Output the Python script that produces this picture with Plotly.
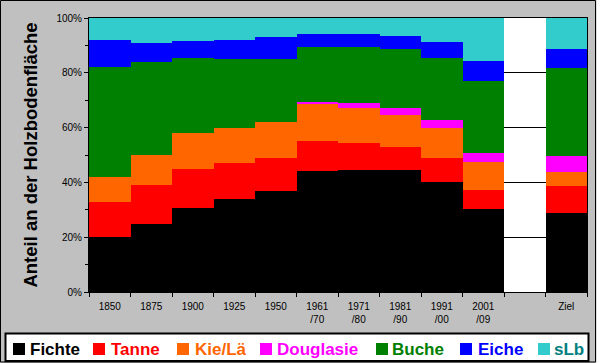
import plotly.graph_objects as go

categories = ["1850", "1875", "1900", "1925", "1950", "1961<br>/70", "1971<br>/80",
              "1981<br>/90", "1991<br>/00", "2001<br>/09", " ", "Ziel"]

fichte    = [20, 25, 30.5, 34, 37, 44, 44.5, 44.5, 40.3, 30.3, None, 28.8]
tanne     = [13, 14, 14.5, 13, 12, 11, 10, 8.5, 8.6, 6.9, None, 9.9]
kie_lae   = [9, 11, 13, 13, 13, 13.5, 12.5, 11.7, 11, 10.2, None, 5.1]
douglasie = [0, 0, 0, 0, 0, 0.8, 1.8, 2.6, 2.9, 3.3, None, 5.8]
buche     = [40, 34, 27.5, 25, 23, 20, 20.5, 21.5, 22.6, 26.3, None, 32.2]
eiche     = [10, 7, 6, 7, 8, 5, 4.8, 4.7, 5.8, 7.3, None, 6.9]
slb       = [8, 9, 8.5, 8, 7, 5.7, 5.9, 6.5, 8.8, 15.7, None, 11.3]

series_names = ["Fichte", "Tanne", "Kie/Lä", "Douglasie", "Buche", "Eiche", "sLb"]
series_values = [fichte, tanne, kie_lae, douglasie, buche, eiche, slb]
bar_colors = ["#000000", "#ff0000", "#ff6600", "#ff00ff", "#008000", "#0000ff", "#33cccc"]
text_colors = ["#000000", "#ff0000", "#ff6600", "#ff00ff", "#008000", "#0000ff", "#008080"]

FONT = "Liberation Sans, Arial, sans-serif"

fig = go.Figure()
for name, vals, col in zip(series_names, series_values, bar_colors):
    fig.add_trace(go.Bar(x=categories, y=vals, name=name,
                         marker=dict(color=col, line=dict(width=0)),
                         showlegend=False))

# plot area in pixels
L, R, T, B = 89, 587, 18, 292
W, H = R - L, B - T

def px(x):
    return (x - L) / W

def py(y):
    return (B - y) / H

shapes = []
# outer frame
shapes.append(dict(type="rect", xref="paper", yref="paper",
                   x0=px(0.5), x1=px(595.5), y0=py(362), y1=py(0.5),
                   line=dict(color="black", width=1), fillcolor="rgba(0,0,0,0)", layer="above"))
shapes.append(dict(type="rect", xref="paper", yref="paper",
                   x0=px(596.5), x1=px(601), y0=py(364), y1=py(-1),
                   line=dict(width=0), fillcolor="white", layer="above"))
# legend box
shapes.append(dict(type="rect", xref="paper", yref="paper",
                   x0=px(5.5), x1=px(588.5), y0=py(361), y1=py(333.5),
                   line=dict(color="black", width=2), fillcolor="white", layer="above"))

square_x = [13, 93, 177, 260, 376, 460, 538]
text_x = [28, 109, 193, 275, 390, 476, 552]
annotations = []
for name, sx, tx, bc, tc in zip(series_names, square_x, text_x, bar_colors, text_colors):
    shapes.append(dict(type="rect", xref="paper", yref="paper",
                       x0=px(sx), x1=px(sx + 12), y0=py(355), y1=py(343),
                       line=dict(width=0), fillcolor=bc, layer="above"))
    annotations.append(dict(xref="paper", yref="paper", x=px(tx), y=py(349.5),
                            xanchor="left", yanchor="middle", showarrow=False,
                            text="<b>%s</b>" % name,
                            font=dict(family=FONT, size=17, color=tc)))

fig.update_layout(
    barmode="stack",
    bargap=0,
    width=600, height=363,
    margin=dict(l=L, r=600 - R, t=T, b=363 - B, pad=0),
    paper_bgcolor="#c0c0c0",
    plot_bgcolor="white",
    font=dict(family=FONT, size=10, color="black"),
    shapes=shapes,
    annotations=annotations,
    xaxis=dict(type="category", tickson="boundaries", ticks="outside", ticklen=4,
               tickcolor="black", showline=True, linecolor="black", linewidth=1,
               mirror=True, showgrid=False, tickfont=dict(size=10),
               ticklabelstandoff=5, automargin=False),
    yaxis=dict(range=[0, 100], dtick=20, ticksuffix="%", ticks="outside", ticklen=4,
               tickcolor="black", showline=True, linecolor="black", linewidth=1,
               mirror=True, showgrid=True, gridcolor="black", gridwidth=1,
               zeroline=False,
               minor=dict(dtick=10, ticks="outside", ticklen=3, tickcolor="black", showgrid=False),
               tickfont=dict(size=10), automargin=False,
               title=dict(text="Anteil an der Holzbodenfläche", standoff=13,
                          font=dict(family=FONT, size=18.5, color="black", weight="bold"))),
)

fig.write_html("out.html", config={"displayModeBar": False},
               post_script="document.body.style.margin='0';document.body.style.overflow='hidden';")
